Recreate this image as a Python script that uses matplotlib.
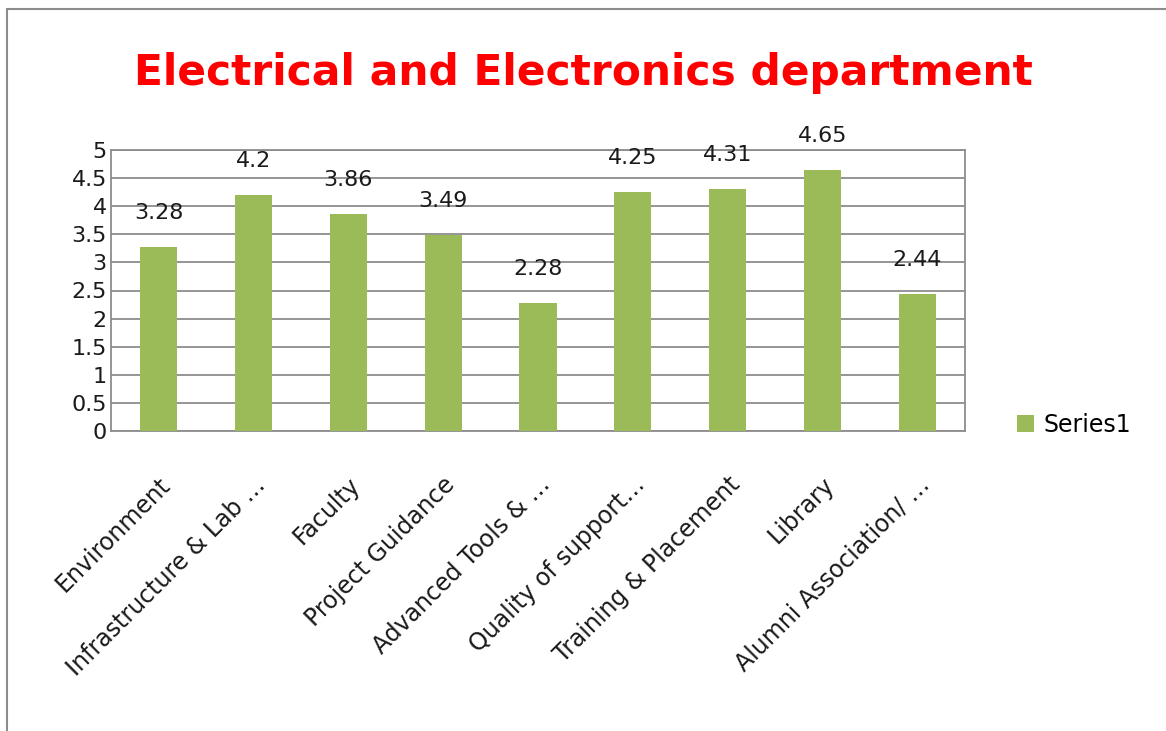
import numpy as np
import matplotlib.pyplot as plt
from matplotlib.patches import Rectangle

categories = ['Environment', 'Infrastructure & Lab …', 'Faculty', 'Project Guidance',
              'Advanced Tools & …', 'Quality of support…', 'Training & Placement',
              'Library', 'Alumni Association/ …']
values = [3.28, 4.2, 3.86, 3.49, 2.28, 4.25, 4.31, 4.65, 2.44]
value_labels = ['3.28', '4.2', '3.86', '3.49', '2.28', '4.25', '4.31', '4.65', '2.44']
yticks = [0, 0.5, 1, 1.5, 2, 2.5, 3, 3.5, 4, 4.5, 5]
ytick_labels = ['0', '0.5', '1', '1.5', '2', '2.5', '3', '3.5', '4', '4.5', '5']

plt.rcParams['font.family'] = ['DejaVu Sans']
green = '#9BBB59'
grid_gray = '#8C8C8C'
txt = '#1A1A1A'

fig = plt.figure(figsize=(11.66, 7.31), dpi=100)
# outer chart border (left and top visible)
fig.patches.append(Rectangle((7 / 1166, -0.01), 1.1, 1 - 9 / 731 + 0.01,
                             transform=fig.transFigure, fill=False,
                             edgecolor='#8C8C8C', linewidth=1.5))

ax = fig.add_axes([111 / 1166, 1 - 431 / 731, (965 - 111) / 1166, (431 - 150) / 731])
x = np.arange(len(categories))
bars = ax.bar(x, values, width=0.39, color=green, zorder=3, label='Series1')

for xi, v, lab in zip(x, values, value_labels):
    ax.text(xi, v + 0.6, lab, ha='center', va='center', fontsize=16, color=txt)

ax.set_xlim(-0.5, len(categories) - 0.5)
ax.set_ylim(0, 5)
ax.set_yticks(yticks)
ax.set_yticklabels(ytick_labels, fontsize=16, color=txt)
ax.yaxis.grid(True, color=grid_gray, linewidth=1.3, zorder=0)
ax.tick_params(axis='both', length=0)
ax.tick_params(axis='y', pad=3)
ax.set_xticks(x)
ax.set_xticklabels(categories, rotation=45, ha='right', rotation_mode='anchor',
                   fontsize=17, color=txt)
ax.tick_params(axis='x', pad=30)
for s in ax.spines.values():
    s.set_color(grid_gray)
    s.set_linewidth(1.3)

fig.text(0.5, 1 - 73 / 731, 'Electrical and Electronics department', ha='center', va='center',
         fontsize=30.5, fontweight='bold', color='#FF0000')

fig.legend(handles=[bars], labels=['Series1'], loc='center left',
           bbox_to_anchor=(996 / 1166, 1 - 425 / 731), frameon=False, fontsize=17,
           handlelength=0.7, handleheight=0.7, handletextpad=0.4)

fig.savefig('out.png', dpi=100)
